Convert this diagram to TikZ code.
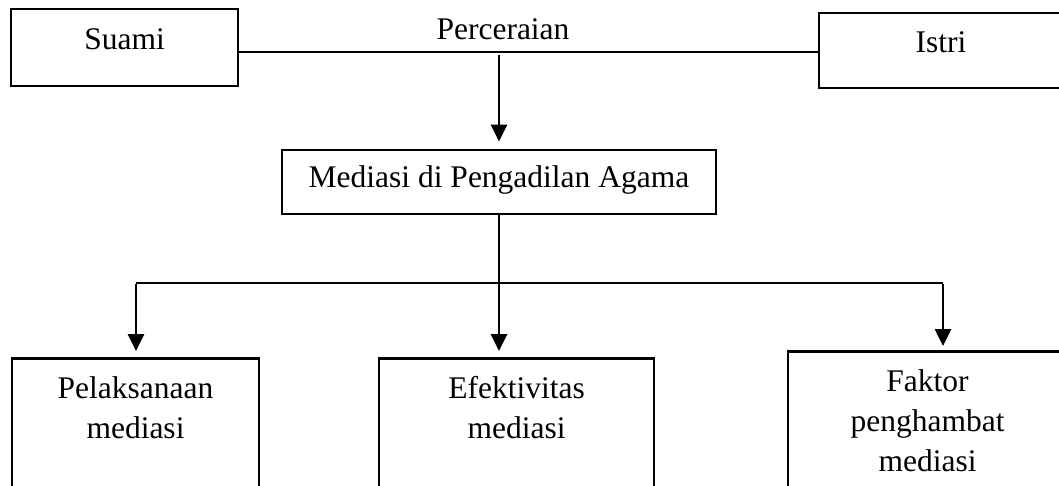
\documentclass[tikz,border=0pt]{standalone}
\usepackage{fontspec}
\setmainfont{Liberation Serif}
\usetikzlibrary{arrows.meta}

\begin{document}
\begin{tikzpicture}[x=1pt,y=-1pt,
    every node/.style={font=\fontsize{31.5}{40}\selectfont, inner sep=0pt},
    kotak/.style={draw, line width=2.8pt, text height=22pt, text depth=17pt},
    kotakbawah/.style={draw, line width=2.8pt, anchor=north, align=center, inner ysep=18pt, text depth=120pt},
    garis/.style={line width=1.4pt},
    panah/.style={line width=2.7pt, -{Triangle[width=16pt,length=17pt]}}]
    \fill[white] (0,0) rectangle (1059,486);
    \clip (0,0) rectangle (1059,486);
    \node[kotak, minimum width=227pt, minimum height=77pt] (S) at (124.5,47.5) {Suami};
    \node[kotak, minimum width=244pt, minimum height=75pt] (I) at (941,50.5) {Istri};
    \node[anchor=base] (P) at (503,40) {Perceraian};
    \node[kotak, minimum width=434pt, minimum height=64pt, text depth=10pt] (M) at (499,182) {Mediasi di Pengadilan Agama};
    \node[kotakbawah, minimum width=247pt, text height=62pt] (L) at (135.5,357) {Pelaksanaan\\mediasi};
    \node[kotakbawah, minimum width=275pt, text height=62pt] (E) at (516.5,357) {Efektivitas\\mediasi};
    \node[kotakbawah, minimum width=279pt, text height=102pt] (F) at (927.5,350) {Faktor\\penghambat\\mediasi};
    \coordinate (T) at (499,52);
    \coordinate (K) at (499,283);
    \coordinate (K1) at (136,283);
    \coordinate (K3) at (943,283);
    \draw[garis] (S.east |- T) -- (I.west |- T);
    \draw[panah, shorten >=7pt] ([yshift=-3pt]T) -- (T |- M.north);
    \draw[garis] (M.south) -- (K);
    \draw[garis] (K1) -- (K3);
    \draw[panah, shorten >=6pt] ([yshift=-1pt]K1) -- (K1 |- L.north);
    \draw[panah, shorten >=6pt] ([yshift=-1pt]K) -- (K |- E.north);
    \draw[panah, shorten >=4pt] ([yshift=-1pt]K3) -- (K3 |- F.north);
\end{tikzpicture}
\end{document}
